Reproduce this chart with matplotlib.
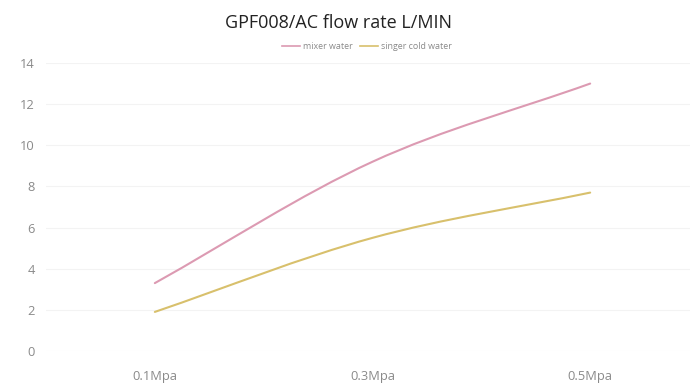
import numpy as np
import matplotlib.pyplot as plt
from matplotlib.path import Path
from matplotlib.patches import PathPatch
from matplotlib.lines import Line2D

plt.rcParams['font.family'] = ['Open Sans', 'DejaVu Sans']

# Data
pressures = ['0.1Mpa', '0.3Mpa', '0.5Mpa']
mixer_water = [3.3, 9.2, 13.0]
singer_cold = [1.9, 5.5, 7.7]
y_ticks = [0, 2, 4, 6, 8, 10, 12, 14]

MIXER_COLOR = '#dc9ab2'
SINGER_COLOR = '#d8c06c'
TEXT_COLOR = '#8a8a8a'


def smooth_path(xs, ys):
    """Cubic Bezier path through the points (Catmull-Rom style tangents)."""
    pts = np.column_stack([xs, ys]).astype(float)
    n = len(pts)
    tang = np.zeros_like(pts)
    for i in range(n):
        if i == 0:
            tang[i] = pts[1] - pts[0]
        elif i == n - 1:
            tang[i] = pts[-1] - pts[-2]
        else:
            tang[i] = (pts[i + 1] - pts[i - 1]) / 2
    verts = [pts[0]]
    codes = [Path.MOVETO]
    for i in range(n - 1):
        verts += [pts[i] + tang[i] / 3, pts[i + 1] - tang[i + 1] / 3, pts[i + 1]]
        codes += [Path.CURVE4] * 3
    return Path(verts, codes)


fig = plt.figure(figsize=(6.9, 3.85), dpi=100)
ax = fig.add_axes([46 / 690, 34 / 385, 653 / 690, 288 / 385])

x = np.arange(len(pressures))
for vals, col in [(mixer_water, MIXER_COLOR), (singer_cold, SINGER_COLOR)]:
    ax.add_patch(PathPatch(smooth_path(x, vals), facecolor='none',
                           edgecolor=col, linewidth=1.5, capstyle='round'))

ax.set_xlim(-0.5, len(pressures) - 0.5)
ax.set_ylim(0, 14)
ax.set_xticks(x)
ax.set_xticklabels(pressures)
ax.set_yticks(y_ticks)
ax.tick_params(axis='both', length=0, labelsize=9.3, colors=TEXT_COLOR)
ax.tick_params(axis='x', pad=14)
ax.tick_params(axis='y', pad=8)
ax.grid(axis='y', color='#f3f3f3', linewidth=0.8)
ax.set_axisbelow(True)
for s in ax.spines.values():
    s.set_visible(False)

fig.text(0.49, 0.94, 'GPF008/AC flow rate L/MIN', ha='center', va='center',
         fontsize=13, color='#222222')

handles = [Line2D([], [], color=MIXER_COLOR, lw=1.2),
           Line2D([], [], color=SINGER_COLOR, lw=1.2)]
fig.legend(handles, ['mixer water', 'singer cold water'], loc='center',
           bbox_to_anchor=(0.532, 0.88), ncol=2, frameon=False, fontsize=6.4,
           labelcolor=TEXT_COLOR, handlelength=2.0, handletextpad=0.4,
           columnspacing=0.8)

fig.savefig('out.png', dpi=100)
